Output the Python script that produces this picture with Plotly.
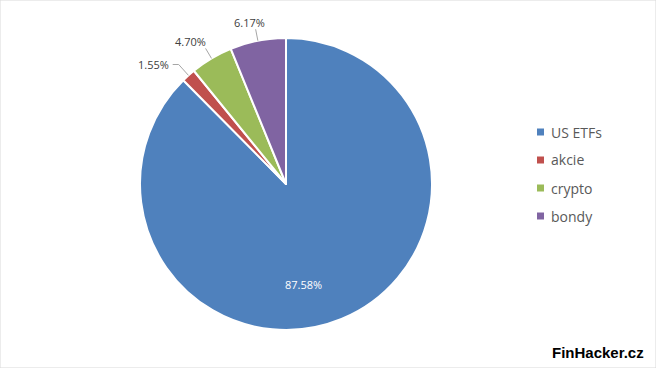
import math
import plotly.graph_objects as go

labels = ["US ETFs", "akcie", "crypto", "bondy"]
values = [87.58, 1.55, 4.70, 6.17]
colors = ["#4F81BD", "#C0504D", "#9BBB59", "#8064A2"]
text_labels = ["87.58%", "1.55%", "4.70%", "6.17%"]
outside = [False, True, True, True]

W, H = 656, 368
CX, CY, R = 286, 184, 146  # pie geometry in pixels


def px(x):
    return x / W


def py(y):
    return 1 - y / H


fig = go.Figure()
fig.add_trace(go.Pie(
    labels=labels,
    values=values,
    sort=False,
    direction="clockwise",
    rotation=0,
    marker=dict(colors=colors, line=dict(color="white", width=2)),
    textinfo="none",
    domain=dict(x=[px(CX - R), px(CX + R)], y=[py(CY + R), py(CY - R)]),
    hoverinfo="label+percent",
    showlegend=False,
))

shapes = [dict(type="rect", xref="paper", yref="paper", x0=0, y0=0, x1=1, y1=1,
               line=dict(color="#D9D9D9", width=1))]
annotations = []

# data labels positioned from slice mid-angles
total = sum(values)
cum = 0.0
for v, t, o in zip(values, text_labels, outside):
    mid = (cum + v / 2) / total * 2 * math.pi
    cum += v
    s, c = math.sin(mid), math.cos(mid)
    if not o:
        ix, iy = CX + R * 0.69 * s, CY - R * 0.69 * c
        annotations.append(dict(text=t, xref="paper", yref="paper", x=px(ix), y=py(iy),
                                xshift=-21, yshift=-7,
                                xanchor="center", yanchor="middle", showarrow=False,
                                font=dict(size=11, color="white", family="Open Sans")))
        continue
    ex, ey = CX + R * s, CY - R * c
    if abs(s) > 0.6:
        bx, by = CX + R * 1.1 * s, CY - R * 1.1 * c
        hx = bx - 6
        path = f"M {px(ex)} {py(ey)} L {px(bx)} {py(by)} L {px(hx)} {py(by)}"
        annotations.append(dict(text=t, xref="paper", yref="paper", x=px(hx - 2), y=py(by),
                                xanchor="right", yanchor="middle", showarrow=False,
                                font=dict(size=11, color="#404040", family="Open Sans")))
    else:
        bx, by = CX + R * 1.08 * s, CY - R * 1.08 * c
        path = f"M {px(ex)} {py(ey)} L {px(bx)} {py(by)}"
        annotations.append(dict(text=t, xref="paper", yref="paper", x=px(bx + s * 30), y=py(by - 7),
                                xanchor="center", yanchor="middle", showarrow=False,
                                font=dict(size=11, color="#404040", family="Open Sans")))
    shapes.append(dict(type="path", xref="paper", yref="paper", path=path,
                       line=dict(color="#A6A6A6", width=1)))

# legend
LX, LY0, LDY = 537, 132, 28
for i, (lab, col) in enumerate(zip(labels, colors)):
    y = LY0 + i * LDY
    shapes.append(dict(type="rect", xref="paper", yref="paper",
                       x0=px(LX), x1=px(LX + 7), y0=py(y + 3.5), y1=py(y - 3.5),
                       fillcolor=col, line=dict(width=0)))
    annotations.append(dict(text=lab, xref="paper", yref="paper", x=px(LX + 12), y=py(y),
                            xanchor="left", yanchor="middle", showarrow=False,
                            font=dict(size=14, color="#595959", family="Open Sans")))

annotations.append(dict(text="<b>FinHacker.cz</b>", xref="paper", yref="paper",
                        x=px(646), y=py(352), xanchor="right", yanchor="middle",
                        showarrow=False, font=dict(size=15, color="black", family="Liberation Sans")))

fig.update_layout(
    width=W, height=H,
    margin=dict(l=0, r=0, t=0, b=0),
    paper_bgcolor="white",
    plot_bgcolor="white",
    showlegend=False,
    shapes=shapes,
    annotations=annotations,
)

fig.write_html("out.html", config={"displayModeBar": False},
               post_script="document.body.style.margin='0';document.body.style.padding='0';")
